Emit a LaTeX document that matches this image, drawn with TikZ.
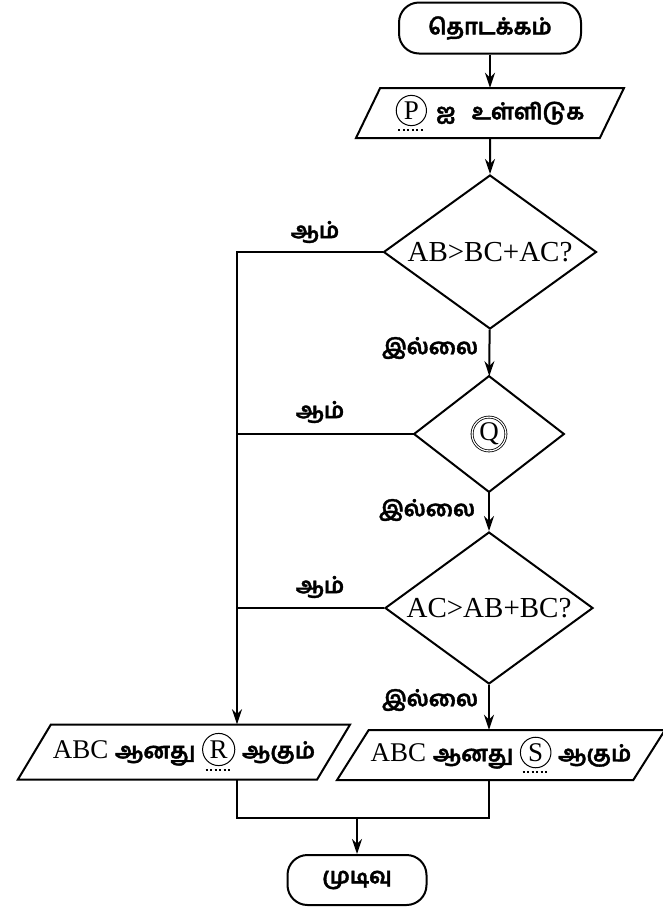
\documentclass[tikz,border=0pt]{standalone}
\usepackage{fontspec}
\setmainfont{Liberation Serif}
\newfontfamily\tamil[Script=Tamil, FakeBold=1.6]{Hind Madurai}
\usetikzlibrary{shapes.geometric, arrows.meta}

\newcommand{\ta}[1]{{\tamil\bfseries\fontsize{22}{26}\selectfont #1}}
\newcommand{\blank}[1]{\tikz[baseline=(c.base)]{\node[draw, circle, minimum size=0pt, inner sep=2.5pt, line width=1pt] (c) {#1};
    \draw[line width=2pt, dash pattern=on 2pt off 2.5pt] ([shift={(-13pt,-4pt)}]c.south) -- ++(26pt,0pt);}}

\begin{document}
\begin{tikzpicture}[x=1pt, y=-1pt, line width=2pt, >={Stealth[length=15pt,width=10pt]},
    font=\fontsize{27}{32}\selectfont,
    term/.style = {draw, rectangle, rounded corners=20pt, minimum width=182pt, minimum height=51pt},
    io/.style = {draw, trapezium, trapezium stretches body, trapezium left angle=#1, trapezium right angle=180-#1, inner sep=2pt},
    decision/.style = {draw, diamond, aspect=1.4, inner sep=0pt, font=\fontsize{29}{34}\selectfont},
    lbl/.style = {inner sep=0pt}]
\useasboundingbox (0,0) rectangle (662,911);
\node[term] (1) at (490,28) {\ta{தொடக்கம்}};
\node[io=59, minimum width=268pt, minimum height=50pt] (2) at (490,113) {\blank{P}\hspace{9pt}\ta{ஐ}\hspace{16pt}\ta{உள்ளிடுக}};
\node[decision, minimum width=213pt, minimum height=154pt] (3) at (490,252) {AB>BC+AC?};
\node[decision, minimum width=150pt, minimum height=116pt] (4) at (489,434)
    {\tikz[baseline=(q.base)]\node[draw, circle, minimum size=0pt, double, double distance=1.2pt, line width=0.8pt, inner sep=1.5pt, font=\fontsize{27}{32}\selectfont] (q) {Q};};
\node[decision, minimum width=208pt, minimum height=152pt] (5) at (489,608) {AC>AB+BC?};
\node[io=52, minimum width=318pt, minimum height=55pt] (6) at (184,752) {ABC \ta{ஆனது} \blank{R}\ \ta{ஆகும்}};
\node[io=52, minimum width=326pt, minimum height=50pt] (7) at (501,755) {ABC \ta{ஆனது} \blank{S}\ \ta{ஆகும்}};
\node[term, minimum width=139pt, minimum height=50pt] (8) at (357,880) {\ta{முடிவு}};
% yes branches and merge
\coordinate (a) at (237,252);
\coordinate (b) at (357,818);
\node[lbl] (y1) at (315,232) {\ta{ஆம்}};
\node[lbl] (y2) at (320,412) {\ta{ஆம்}};
\node[lbl] (y3) at (320,587) {\ta{ஆம்}};
\node[lbl] (n1) at (430,348) {\ta{இல்லை}};
\node[lbl] (n2) at (427,510) {\ta{இல்லை}};
\node[lbl] (n3) at (430,700) {\ta{இல்லை}};
\draw[->] (1) -- (2);
\draw[->] (2) -- (3);
\draw[->] (3) -- (4);
\draw[->] (4) -- (5);
\draw[->] (5) -- (5.south |- 7.north);
\draw[->] (3.west) -| (a |- 6.north);
\draw (4.west) -- (4.west -| a);
\draw (5.west) -- (5.west -| a);
\draw (a |- 6.south) |- (b) -| (5.south |- 7.south);
\draw[->] (b) -- (8);
\end{tikzpicture}
\end{document}
